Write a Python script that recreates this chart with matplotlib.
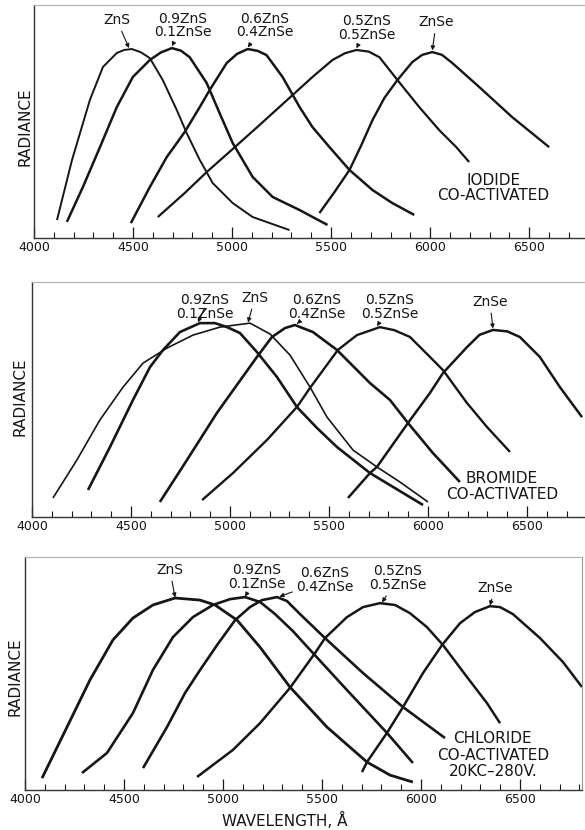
import matplotlib
matplotlib.use('Agg')
import matplotlib.pyplot as plt
from matplotlib.ticker import MultipleLocator

W, H = 585, 830
INK = '#161616'

# ---- iodide co-activated (top panel) ----
iod_zns_wl = [4116, 4192, 4282, 4348, 4418, 4455, 4494, 4540, 4585, 4650, 4721, 4771, 4837, 4902, 5003, 5104, 5290]
iod_zns_r = [7.7, 33.5, 59.2, 73.4, 79.4, 80.7, 81.1, 79.7, 77.2, 67.8, 54.9, 45.0, 33.5, 23.6, 15.0, 9.0, 3.4]
iod_09_wl = [4166, 4247, 4333, 4418, 4499, 4585, 4640, 4696, 4742, 4786, 4872, 4937, 5003, 5104, 5205, 5341, 5482]
iod_09_r = [6.9, 21.9, 39.0, 56.2, 69.1, 76.4, 79.6, 81.5, 80.4, 77.6, 66.5, 53.6, 40.8, 26.2, 17.6, 12.0, 5.6]
iod_06_wl = [4489, 4585, 4670, 4761, 4837, 4887, 4973, 5025, 5079, 5130, 5174, 5255, 5341, 5406, 5492, 5593, 5709, 5809, 5920]
iod_06_r = [6.4, 21.9, 34.7, 45.5, 56.2, 63.5, 75.1, 79.0, 81.1, 80.3, 78.5, 69.1, 56.2, 47.6, 39.0, 29.2, 20.6, 15.0, 9.9]
iod_05_wl = [4625, 4761, 4872, 4998, 5139, 5305, 5406, 5507, 5570, 5628, 5690, 5744, 5835, 5945, 6046, 6132, 6197]
iod_05_r = [9.0, 19.3, 28.3, 37.8, 48.5, 61.3, 69.1, 76.4, 79.3, 80.7, 80.0, 77.6, 67.8, 56.2, 46.3, 39.0, 32.6]
iod_znse_wl = [5441, 5517, 5593, 5653, 5709, 5769, 5835, 5910, 5960, 6011, 6060, 6112, 6248, 6414, 6601]
iod_znse_r = [10.7, 19.7, 29.2, 39.9, 50.6, 60.1, 67.8, 75.5, 78.6, 79.8, 78.6, 75.1, 64.8, 51.9, 39.0]

# ---- bromide co-activated (middle panel) ----
bro_zns_wl = [4106, 4227, 4343, 4460, 4561, 4682, 4813, 4949, 5101, 5202, 5303, 5404, 5490, 5621, 5742, 5858, 6000]
bro_zns_r = [8.1, 24.3, 41.3, 55.3, 65.5, 71.9, 77.4, 80.8, 82.5, 77.9, 68.9, 55.3, 42.5, 28.5, 21.3, 14.9, 6.4]
bro_09_wl = [4283, 4394, 4510, 4596, 4662, 4747, 4848, 4924, 4985, 5050, 5136, 5237, 5338, 5439, 5540, 5707, 5975]
bro_09_r = [11.5, 29.8, 49.8, 63.8, 71.1, 78.7, 82.5, 82.5, 80.8, 78.3, 70.2, 59.6, 46.8, 37.9, 29.8, 18.7, 5.1]
bro_06_wl = [4646, 4783, 4934, 5136, 5212, 5278, 5328, 5419, 5540, 5707, 5808, 5899, 6025, 6161]
bro_06_r = [6.4, 24.3, 44.3, 68.1, 76.6, 80.4, 81.7, 78.7, 71.1, 57.0, 49.8, 40.0, 27.2, 14.9]
bro_05_wl = [4859, 5015, 5187, 5338, 5404, 5545, 5641, 5757, 5830, 5909, 6010, 6076, 6197, 6298, 6414]
bro_05_r = [7.2, 18.7, 32.8, 46.8, 54.9, 71.1, 77.4, 80.8, 79.5, 76.6, 68.1, 62.5, 48.5, 38.3, 27.7]
bro_znse_wl = [5596, 5707, 5742, 5899, 6010, 6076, 6197, 6260, 6328, 6400, 6464, 6565, 6666, 6778]
bro_znse_r = [8.1, 18.7, 21.3, 40.0, 52.8, 61.3, 72.3, 77.5, 79.6, 79.0, 76.6, 68.1, 55.3, 42.5]

# ---- chloride co-activated (bottom panel) ----
chl_zns_wl = [4086, 4212, 4328, 4444, 4545, 4646, 4758, 4884, 4960, 5071, 5187, 5338, 5525, 5727, 5843, 5959]
chl_zns_r = [5.1, 27.0, 47.2, 64.4, 73.8, 79.4, 82.4, 81.5, 79.4, 72.9, 61.3, 44.2, 27.0, 12.0, 6.4, 3.4]
chl_09_wl = [4288, 4414, 4545, 4646, 4747, 4848, 4949, 5035, 5111, 5187, 5263, 5353, 5454, 5626, 5828, 5959]
chl_09_r = [7.3, 15.9, 33.0, 51.5, 65.6, 74.2, 79.4, 81.9, 82.8, 80.7, 75.5, 68.2, 58.8, 42.9, 24.5, 11.6]
chl_06_wl = [4596, 4717, 4808, 4884, 4970, 5061, 5136, 5197, 5273, 5323, 5389, 5515, 5707, 5909, 6121]
chl_06_r = [9.4, 27.0, 41.6, 51.5, 62.2, 72.9, 78.5, 81.5, 82.8, 81.1, 75.5, 65.2, 50.2, 35.6, 22.3]
chl_05_wl = [4869, 5050, 5187, 5338, 5465, 5515, 5626, 5707, 5793, 5869, 5944, 6030, 6111, 6232, 6333, 6399]
chl_05_r = [5.6, 17.2, 28.7, 43.8, 58.8, 65.2, 74.2, 78.5, 80.2, 79.4, 75.9, 69.9, 62.2, 48.5, 37.3, 28.7]
chl_znse_wl = [5702, 5727, 5828, 5909, 6010, 6106, 6197, 6273, 6348, 6399, 6464, 6601, 6717, 6813]
chl_znse_r = [7.7, 12.0, 24.5, 35.6, 50.2, 62.2, 71.6, 76.4, 78.9, 78.5, 75.5, 65.2, 54.9, 44.2]

# curve labels: (text, text position, arrow target)
iod_labels = [('ZnS', (4418, 93.5), (4480, 81.5)),
              ('0.9ZnS\n0.1ZnSe', (4751, 91.2), (4696, 82.3)),
              ('0.6ZnS\n0.4ZnSe', (5164, 91.2), (5079, 81.8)),
              ('0.5ZnS\n0.5ZnSe', (5678, 90.1), (5628, 81.4)),
              ('ZnSe', (6031, 92.5), (6011, 80.5))]
bro_labels = [('0.9ZnS\n0.1ZnSe', (4874, 89.4), (4838, 82.8)),
              ('ZnS', (5126, 93.2), (5091, 82.8)),
              ('0.6ZnS\n0.4ZnSe', (5439, 89.4), (5338, 82.2)),
              ('0.5ZnS\n0.5ZnSe', (5808, 89.4), (5742, 81.2)),
              ('ZnSe', (6313, 91.5), (6328, 80.2))]
chl_labels = [('ZnS', (4732, 94.4), (4758, 82.6)),
              ('0.9ZnS\n0.1ZnSe', (5172, 91.4), (5111, 83.0)),
              ('0.6ZnS\n0.4ZnSe', (5515, 90.1), (5285, 83.0)),
              ('0.5ZnS\n0.5ZnSe', (5884, 90.9), (5803, 80.5)),
              ('ZnSe', (6374, 86.7), (6348, 79.2))]


def px_axes(fig, left, top, right, bottom):
    return fig.add_axes([left / W, 1 - bottom / H, (right - left) / W, (bottom - top) / H])


def style_axes(ax, xmax, right_spine=False):
    ax.set_xlim(4000, xmax)
    ax.set_ylim(0, 100)
    ax.xaxis.set_major_locator(MultipleLocator(500))
    ax.xaxis.set_minor_locator(MultipleLocator(100))
    ax.set_yticks([])
    ax.tick_params(axis='x', which='major', direction='in', length=8, width=0.9,
                   pad=2.5, labelsize=9, colors=INK)
    ax.tick_params(axis='x', which='minor', direction='in', length=4, width=0.8, colors=INK)
    for s in ('left', 'bottom'):
        ax.spines[s].set_color('#333333')
        ax.spines[s].set_linewidth(1.0)
    ax.spines['top'].set_color('#b0b0b0')
    ax.spines['top'].set_linewidth(0.8)
    ax.spines['right'].set_visible(right_spine)
    ax.spines['right'].set_color('#999999')
    ax.spines['right'].set_linewidth(0.8)


def draw_curves(ax, curves):
    for wl, r, lw in curves:
        ax.plot(wl, r, color=INK, lw=lw, solid_joinstyle='round', solid_capstyle='butt')


def draw_labels(ax, labels):
    for text, pos, tip in labels:
        ax.annotate(text, xy=tip, xytext=pos, ha='center', va='center', fontsize=10,
                    linespacing=0.95, color=INK,
                    arrowprops=dict(arrowstyle='-|>', lw=0.8, color=INK, mutation_scale=6,
                                    shrinkA=1, shrinkB=0))


fig = plt.figure(figsize=(W / 100, H / 100), dpi=100)
fig.patch.set_facecolor('white')

ax1 = px_axes(fig, 34, 5, 585, 238)
style_axes(ax1, 6782)
draw_curves(ax1, [(iod_zns_wl, iod_zns_r, 1.4), (iod_09_wl, iod_09_r, 1.8),
                  (iod_06_wl, iod_06_r, 1.8), (iod_05_wl, iod_05_r, 1.6),
                  (iod_znse_wl, iod_znse_r, 1.7)])
draw_labels(ax1, iod_labels)
ax1.text(6318, 21.5, 'IODIDE\nCO-ACTIVATED', ha='center', va='center', fontsize=11,
         linespacing=1.0, color=INK)

ax2 = px_axes(fig, 32, 282, 585, 517)
style_axes(ax2, 6793)
draw_curves(ax2, [(bro_zns_wl, bro_zns_r, 1.2), (bro_09_wl, bro_09_r, 1.9),
                  (bro_06_wl, bro_06_r, 1.9), (bro_05_wl, bro_05_r, 1.7),
                  (bro_znse_wl, bro_znse_r, 1.8)])
draw_labels(ax2, bro_labels)
ax2.text(6374, 12.9, 'BROMIDE\nCO-ACTIVATED', ha='center', va='center', fontsize=11,
         linespacing=1.1, color=INK)

ax3 = px_axes(fig, 25, 557, 582, 790)
style_axes(ax3, 6813, right_spine=True)
draw_curves(ax3, [(chl_zns_wl, chl_zns_r, 2.0), (chl_09_wl, chl_09_r, 1.9),
                  (chl_06_wl, chl_06_r, 1.9), (chl_05_wl, chl_05_r, 1.8),
                  (chl_znse_wl, chl_znse_r, 1.8)])
draw_labels(ax3, chl_labels)
ax3.text(6363, 15.0, 'CHLORIDE\nCO-ACTIVATED\n20KC\u2013280V.', ha='center', va='center',
         fontsize=11, linespacing=1.15, color=INK)

for x, y in [(25, 127), (20, 397), (15, 677)]:
    fig.text(x / W, 1 - y / H, 'RADIANCE', rotation=90, ha='center', va='center',
             fontsize=11, color=INK)
fig.text(285 / W, 1 - 820 / H, 'WAVELENGTH, \u00c5', ha='center', va='center',
         fontsize=11, color=INK)

fig.savefig('out.png', dpi=100, facecolor='white')
